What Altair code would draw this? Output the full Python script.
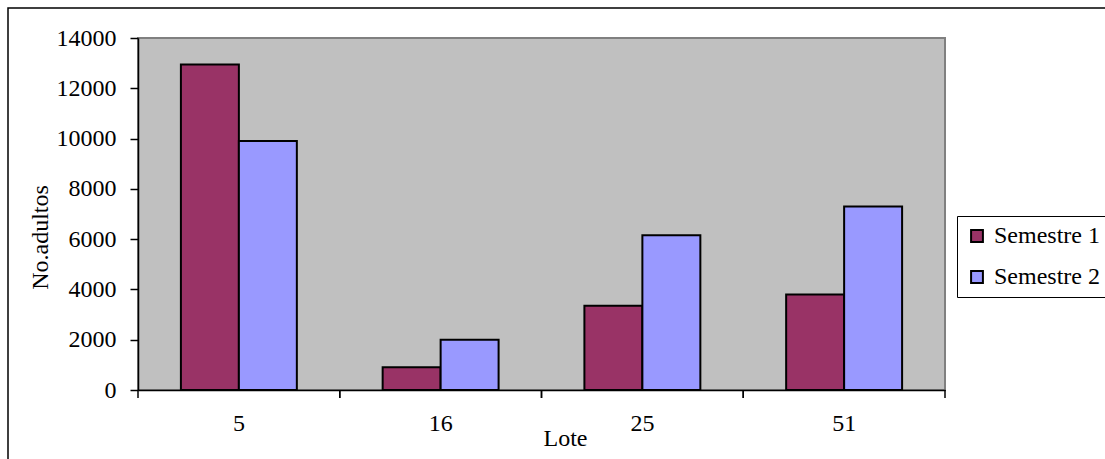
import altair as alt
import pandas as pd

lotes = ["5", "16", "25", "51"]
semestres = ["Semestre 1", "Semestre 2"]
sem1 = [12950, 900, 3350, 3800]
sem2 = [9900, 2000, 6150, 7300]
colors = ["#993366", "#9999FF"]
y_ticks = [0, 2000, 4000, 6000, 8000, 10000, 12000, 14000]

rows = []
for i, l in enumerate(lotes):
    rows.append({"Lote": l, "Semestre": semestres[0], "Valor": sem1[i]})
    rows.append({"Lote": l, "Semestre": semestres[1], "Valor": sem2[i]})
df = pd.DataFrame(rows)

FONT = "Liberation Serif"

xscale = alt.Scale(domain=lotes, paddingInner=0, paddingOuter=0)

bars = alt.Chart(df).mark_bar(stroke="black", strokeWidth=2).encode(
    x=alt.X("Lote:N", scale=xscale, sort=lotes,
            axis=alt.Axis(title="Lote", labelAngle=0, ticks=False,
                          labelPadding=21, titleX=427, titleY=48,
                          titleBaseline="middle")),
    xOffset=alt.XOffset("Semestre:N", sort=semestres,
                        scale=alt.Scale(paddingInner=0, paddingOuter=0.74)),
    y=alt.Y("Valor:Q", scale=alt.Scale(domain=[0, 14000], nice=False),
            axis=alt.Axis(title="No.adultos", values=y_ticks, grid=False, format="d",
                          tickSize=8, labelPadding=14,
                          titleAngle=-90, titleX=-98, titleY=199,
                          titleBaseline="middle", titleAlign="center")),
    fill=alt.Fill("Semestre:N", sort=semestres,
                  scale=alt.Scale(domain=semestres, range=colors),
                  legend=alt.Legend(title=None, orient="none", legendX=819, legendY=178,
                                    symbolType="square", symbolSize=140,
                                    symbolStrokeColor="black", symbolStrokeWidth=2,
                                    labelFont=FONT, labelFontSize=24, labelColor="black",
                                    labelOffset=5,
                                    rowPadding=17, padding=8,
                                    strokeColor="black", fillColor="white",
                                    cornerRadius=0)),
)

ticks_df = pd.DataFrame({"Lote": lotes})
tick0 = alt.Chart(ticks_df).mark_rule(color="black", strokeWidth=1.5).encode(
    x=alt.X("Lote:N", scale=xscale, sort=lotes, bandPosition=0),
    y=alt.value(352), y2=alt.value(360))
tick1 = alt.Chart(ticks_df).mark_rule(color="black", strokeWidth=1.5).encode(
    x=alt.X("Lote:N", scale=xscale, sort=lotes, bandPosition=1),
    y=alt.value(352), y2=alt.value(360))

border = alt.Chart(pd.DataFrame({"a": [0]})).mark_rect(
    fillOpacity=0, stroke="black", strokeWidth=1.5).encode(
    x=alt.value(-130), x2=alt.value(1000), y=alt.value(-30), y2=alt.value(450))

chart = alt.layer(border, bars, tick0, tick1).properties(
    width=807, height=352,
    autosize=alt.AutoSizeParams(type="none"),
    padding={"left": 138, "top": 38, "right": 160, "bottom": 69},
    background="white",
).configure_view(
    fill="#C0C0C0", stroke="#808080", strokeWidth=2
).configure_axis(
    domainColor="black", domainWidth=1.5, tickColor="black", tickWidth=1.5,
    labelFont=FONT, labelFontSize=24, labelColor="black",
    titleFont=FONT, titleFontSize=24, titleColor="black", titleFontWeight="normal",
)

chart.save("out.html", embed_options={"renderer": "svg", "actions": False})
